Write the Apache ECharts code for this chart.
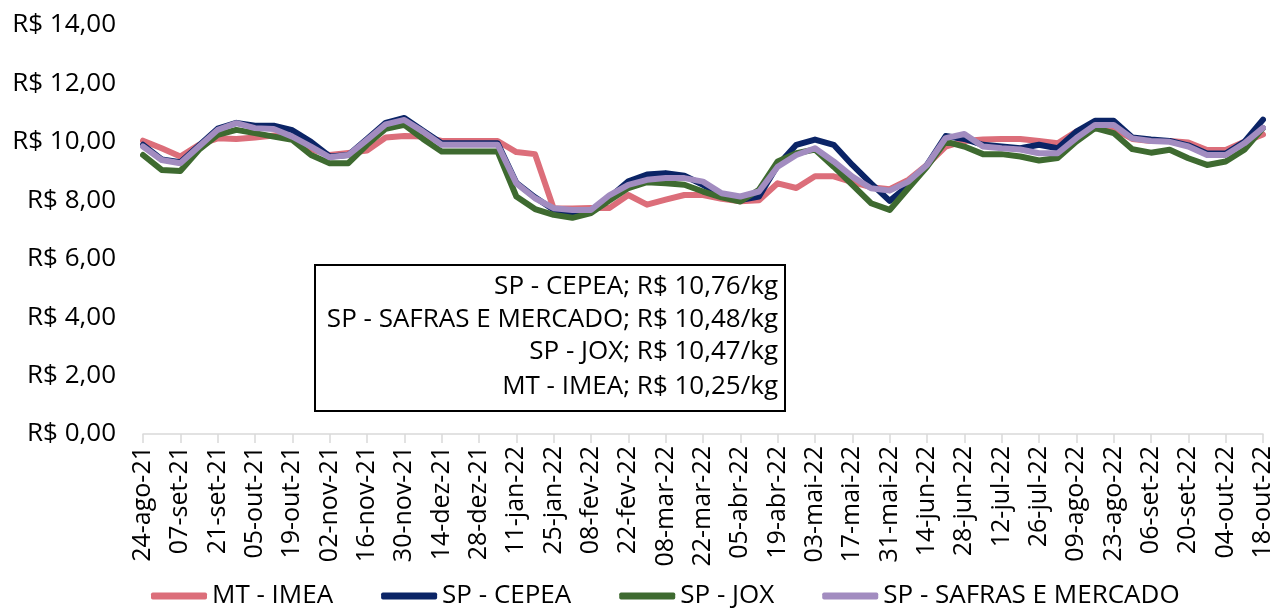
<!DOCTYPE html>
<html>
<head>
<meta charset="utf-8">
<script src="https://cdn.jsdelivr.net/npm/echarts@6/dist/echarts.min.js"></script>
<style>
  html, body { margin: 0; padding: 0; background: #fff; }
  #chart { width: 1279px; height: 610px; }
</style>
</head>
<body>
<div id="chart"></div>
<script>
// semanas (toda terça-feira), rótulo mostrado a cada 2 semanas
var weeks = [
  "24-ago-21", "31-ago-21", "07-set-21", "14-set-21", "21-set-21", "28-set-21", "05-out-21", "12-out-21",
  "19-out-21", "26-out-21", "02-nov-21", "09-nov-21", "16-nov-21", "23-nov-21", "30-nov-21", "07-dez-21",
  "14-dez-21", "21-dez-21", "28-dez-21", "04-jan-22", "11-jan-22", "18-jan-22", "25-jan-22", "01-fev-22",
  "08-fev-22", "15-fev-22", "22-fev-22", "01-mar-22", "08-mar-22", "15-mar-22", "22-mar-22", "29-mar-22",
  "05-abr-22", "12-abr-22", "19-abr-22", "26-abr-22", "03-mai-22", "10-mai-22", "17-mai-22", "24-mai-22",
  "31-mai-22", "07-jun-22", "14-jun-22", "21-jun-22", "28-jun-22", "05-jul-22", "12-jul-22", "19-jul-22",
  "26-jul-22", "02-ago-22", "09-ago-22", "16-ago-22", "23-ago-22", "30-ago-22", "06-set-22", "13-set-22",
  "20-set-22", "27-set-22", "04-out-22", "11-out-22", "18-out-22"
];

// R$/kg
var mtImea = [
  10.04, 9.78, 9.50, 9.90, 10.12, 10.10, 10.15, 10.22, 10.10, 9.75, 9.55, 9.62, 9.70, 10.15, 10.20, 10.18,
  10.03, 10.03, 10.03, 10.03, 9.65, 9.58, 7.72, 7.72, 7.74, 7.74, 8.18, 7.85, 8.02, 8.18, 8.18, 8.05,
  7.97, 8.00, 8.58, 8.42, 8.82, 8.82, 8.62, 8.45, 8.38, 8.70, 9.21, 9.84, 10.03, 10.08, 10.10, 10.10,
  10.03, 9.95, 10.35, 10.52, 10.45, 10.10, 10.03, 10.03, 9.98, 9.72, 9.72, 10.00, 10.25
];
var spCepea = [
  9.90, 9.40, 9.30, 9.88, 10.45, 10.65, 10.55, 10.55, 10.40, 10.00, 9.50, 9.55, 10.10, 10.65, 10.82, 10.38,
  9.95, 9.95, 9.95, 9.95, 8.60, 8.10, 7.68, 7.58, 7.62, 8.10, 8.65, 8.88, 8.93, 8.84, 8.53, 8.18,
  8.01, 8.13, 9.20, 9.90, 10.08, 9.90, 9.21, 8.58, 7.98, 8.50, 9.21, 10.20, 10.10, 9.90, 9.84, 9.78,
  9.90, 9.78, 10.35, 10.72, 10.72, 10.15, 10.08, 10.03, 9.88, 9.60, 9.60, 10.00, 10.76
];
var spJox = [
  9.55, 9.04, 9.00, 9.73, 10.24, 10.41, 10.30, 10.18, 10.07, 9.55, 9.27, 9.27, 9.90, 10.45, 10.58, 10.10,
  9.67, 9.67, 9.67, 9.67, 8.13, 7.70, 7.50, 7.40, 7.56, 8.00, 8.42, 8.62, 8.58, 8.53, 8.30, 8.10,
  7.96, 8.36, 9.33, 9.61, 9.74, 9.15, 8.53, 7.90, 7.67, 8.41, 9.15, 10.01, 9.84, 9.58, 9.58, 9.50,
  9.36, 9.45, 10.01, 10.47, 10.30, 9.75, 9.63, 9.73, 9.44, 9.21, 9.33, 9.73, 10.47
];
var spSafras = [
  9.84, 9.38, 9.27, 9.84, 10.41, 10.64, 10.47, 10.44, 10.18, 9.84, 9.47, 9.55, 10.07, 10.60, 10.75, 10.35,
  9.90, 9.90, 9.90, 9.90, 8.58, 8.07, 7.73, 7.67, 7.67, 8.18, 8.53, 8.70, 8.76, 8.76, 8.64, 8.24,
  8.13, 8.30, 9.15, 9.55, 9.78, 9.33, 8.81, 8.41, 8.33, 8.64, 9.21, 10.13, 10.27, 9.84, 9.78, 9.74,
  9.61, 9.61, 10.13, 10.58, 10.58, 10.12, 10.03, 10.00, 9.84, 9.55, 9.55, 9.95, 10.48
];

var yTicks = { min: 0, max: 14, interval: 2 };

var FONT = "Open Sans";

function brl(v) {
  return "R$ " + v.toFixed(2).replace(".", ",");
}
function last(arr) {
  return arr[arr.length - 1];
}

var seriesDefs = [
  { name: "MT - IMEA", data: mtImea, color: "#dc6e7a" },
  { name: "SP - CEPEA", data: spCepea, color: "#0b2466" },
  { name: "SP - JOX", data: spJox, color: "#3e6a30" },
  { name: "SP - SAFRAS E MERCADO", data: spSafras, color: "#a28cc0" }
];

// caixa com os últimos preços
var boxLines = [
  { text: "SP - CEPEA; " + brl(last(spCepea)) + "/kg", y: 287 },
  { text: "SP - SAFRAS E MERCADO; " + brl(last(spSafras)) + "/kg", y: 320 },
  { text: "SP - JOX; " + brl(last(spJox)) + "/kg", y: 352 },
  { text: "MT - IMEA; " + brl(last(mtImea)) + "/kg", y: 387 }
];

var chart = echarts.init(document.getElementById("chart"), null, { renderer: "canvas" });

var option = {
  animation: false,
  backgroundColor: "#fff",
  textStyle: { fontFamily: FONT },
  grid: { left: 143, right: 16, top: 25, bottom: 176, containLabel: false },
  legend: {
    bottom: -4,
    left: 146,
    icon: "roundRect",
    itemWidth: 56,
    itemHeight: 7,
    itemGap: 48,
    textStyle: { fontFamily: FONT, fontSize: 26, color: "#000" },
    data: seriesDefs.map(function (s) { return s.name; })
  },
  xAxis: {
    type: "category",
    data: weeks,
    boundaryGap: false,
    axisLine: { lineStyle: { color: "#d9d9d9", width: 1.5 } },
    axisTick: { show: true, interval: 1, length: 9, lineStyle: { color: "#d9d9d9", width: 1.5 } },
    axisLabel: {
      interval: 1,
      rotate: 90,
      margin: 12,
      fontFamily: FONT,
      fontSize: 25,
      color: "#000"
    },
    splitLine: { show: false }
  },
  yAxis: {
    type: "value",
    min: yTicks.min,
    max: yTicks.max,
    interval: yTicks.interval,
    axisLine: { show: false },
    axisTick: { show: false },
    splitLine: { show: false },
    axisLabel: {
      margin: 27,
      fontFamily: FONT,
      fontSize: 26,
      color: "#000",
      formatter: function (v) { return brl(v); }
    }
  },
  series: seriesDefs.map(function (s) {
    return {
      name: s.name,
      type: "line",
      data: s.data,
      symbol: "none",
      smooth: false,
      color: s.color,
      lineStyle: { color: s.color, width: 6, cap: "round", join: "round" }
    };
  }),
  graphic: [
    {
      type: "rect",
      shape: { x: 315, y: 265, width: 470, height: 146 },
      style: { fill: "#fff", stroke: "#000", lineWidth: 2 },
      z: 100
    }
  ].concat(boxLines.map(function (l) {
    return {
      type: "text",
      x: 778,
      y: l.y,
      z: 101,
      style: {
        text: l.text,
        fill: "#000",
        font: "26px '" + FONT + "'",
        textAlign: "right",
        textVerticalAlign: "middle"
      }
    };
  }))
};

chart.setOption(option);
</script>
</body>
</html>
